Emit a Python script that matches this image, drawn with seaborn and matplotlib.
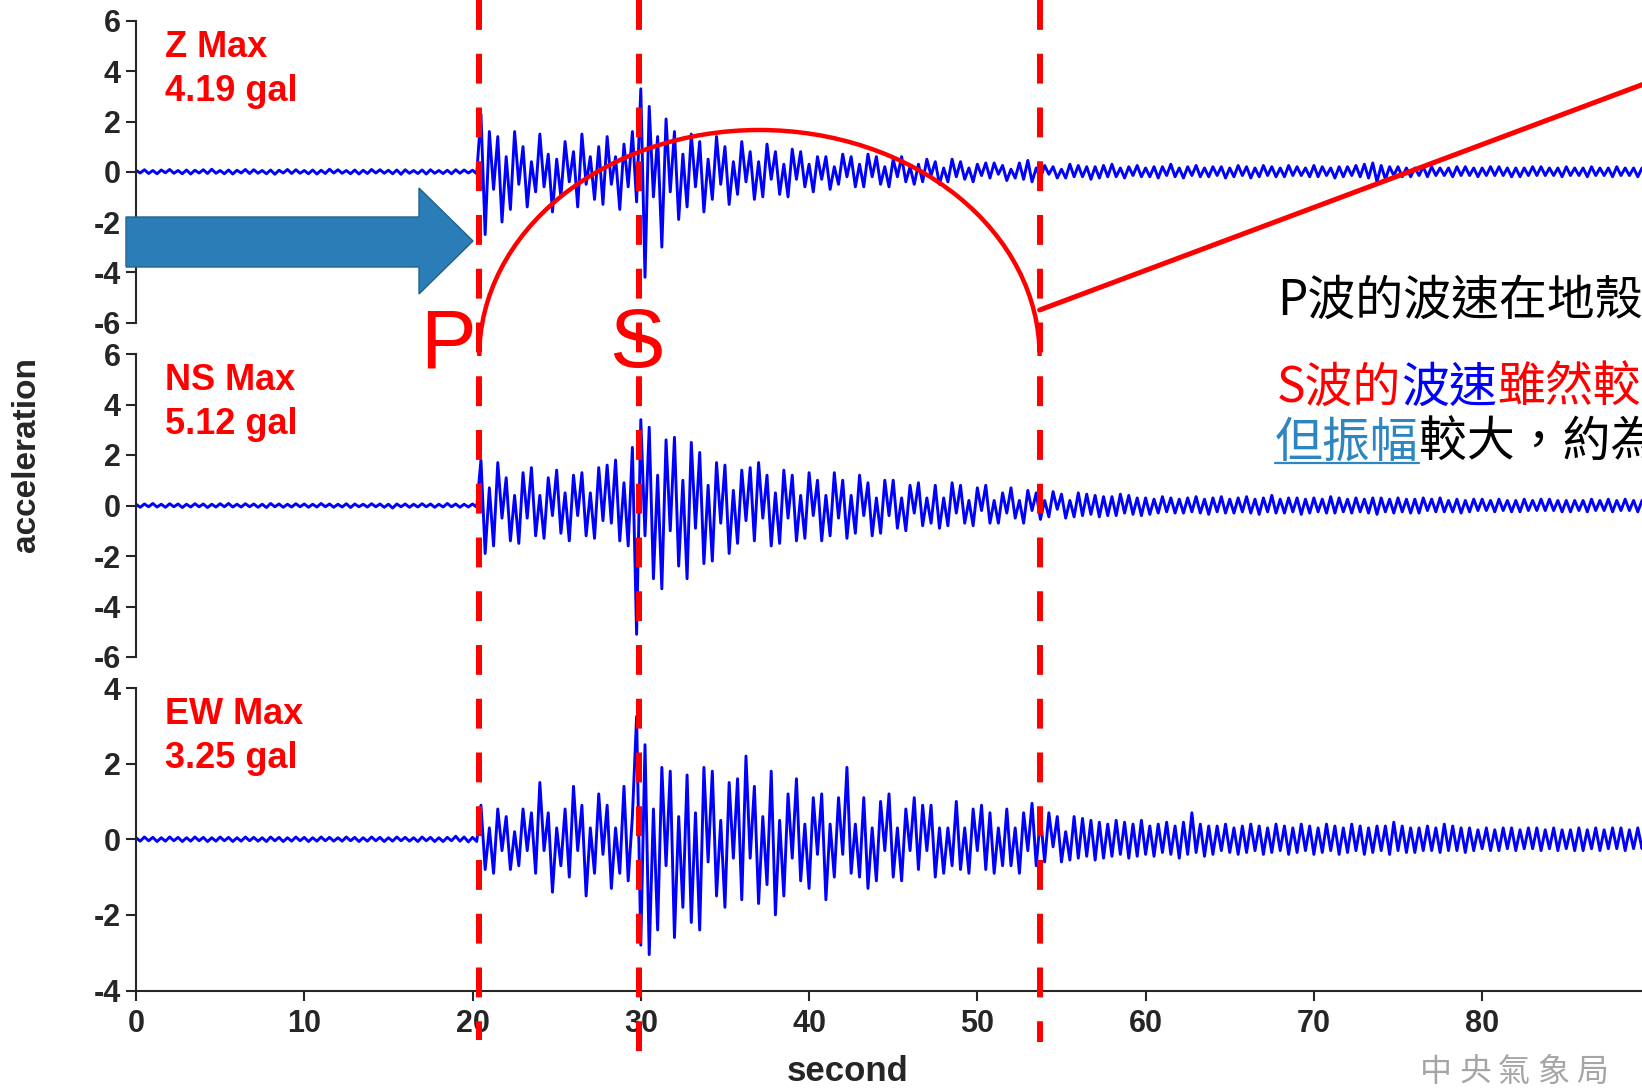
import numpy as np
import pandas as pd
import matplotlib
matplotlib.use("Agg")
import matplotlib.pyplot as plt
import seaborn as sns
from matplotlib.patches import Arc, Polygon
from matplotlib.transforms import offset_copy

# ---- data (gal, one value every 0.25 s) ----
sample_step = 0.25

z_accel = [
    0.06, -0.05, 0.08, -0.07, 0.05, -0.08, 0.07, -0.04,
    0.09, -0.06, 0.05, -0.08, 0.07, -0.09, 0.06, -0.05,
    0.08, -0.07, 0.10, -0.06, 0.05, -0.08, 0.07, -0.09,
    0.06, -0.05, 0.09, -0.07, 0.08, -0.06, 0.05, -0.08,
    0.07, -0.10, 0.06, -0.05, 0.09, -0.07, 0.08, -0.06,
    0.05, -0.08, 0.07, -0.09, 0.06, -0.07, 0.10, -0.05,
    0.08, -0.06, 0.05, -0.08, 0.07, -0.09, 0.06, -0.07,
    0.09, -0.05, 0.08, -0.06, 0.06, -0.08, 0.07, -0.10,
    0.08, -0.06, 0.05, -0.07, 0.07, -0.09, 0.08, -0.06,
    0.05, -0.07, 0.06, -0.08, 0.08, -0.06, 0.07, -0.05,
    0.06, -0.08, 2.30, -2.50, 1.60, -0.70, 1.40, -2.00,
    0.60, -1.50, 1.60, -0.50, 1.00, -1.40, 0.40, -0.80,
    1.50, -0.60, 0.70, -1.60, 0.50, -1.00, 1.20, -0.40,
    0.80, -1.40, 1.50, -0.50, 0.60, -1.10, 1.00, -1.30,
    1.40, -0.50, 0.60, -1.50, 1.10, -0.60, 1.60, -1.20,
    3.30, -4.20, 2.60, -1.00, 1.40, -3.00, 2.10, -0.80,
    1.60, -1.90, 0.70, -1.40, 1.50, -0.60, 1.20, -1.60,
    0.50, -1.10, 1.40, -0.50, 1.00, -1.30, 0.40, -0.90,
    1.20, -0.40, 0.80, -1.10, 0.40, -1.00, 1.10, -0.30,
    0.80, -0.90, 0.30, -1.00, 0.90, -0.30, 0.80, -0.60,
    0.30, -0.80, 0.60, -0.30, 0.60, -0.70, 0.20, -0.50,
    0.70, -0.20, 0.60, -0.60, 0.30, -0.60, 0.70, -0.20,
    0.60, -0.50, 0.20, -0.60, 0.50, -0.20, 0.60, -0.40,
    0.20, -0.50, 0.30, -0.40, 0.50, -0.15, 0.40, -0.50,
    0.15, -0.40, 0.50, -0.20, 0.40, -0.30, 0.15, -0.40,
    0.30, -0.15, 0.35, -0.25, 0.35, -0.10, 0.25, -0.35,
    0.10, -0.25, 0.35, -0.30, 0.45, -0.40, 0.15, -0.25,
    0.25, -0.10, 0.20, -0.25, 0.10, -0.25, 0.30, -0.20,
    0.25, -0.20, 0.20, -0.30, 0.20, -0.25, 0.25, -0.20,
    0.30, -0.20, 0.15, -0.25, 0.20, -0.15, 0.25, -0.20,
    0.15, -0.20, 0.20, -0.25, 0.20, -0.15, 0.30, -0.20,
    0.15, -0.25, 0.20, -0.15, 0.25, -0.20, 0.15, -0.20,
    0.20, -0.15, 0.20, -0.25, 0.15, -0.20, 0.25, -0.15,
    0.20, -0.25, 0.15, -0.20, 0.25, -0.15, 0.20, -0.20,
    0.15, -0.20, 0.25, -0.15, 0.20, -0.15, 0.15, -0.20,
    0.25, -0.20, 0.20, -0.15, 0.15, -0.25, 0.20, -0.20,
    0.20, -0.15, 0.25, -0.20, 0.30, -0.25, 0.35, -0.40,
    0.25, -0.30, 0.20, -0.15, 0.20, -0.20, 0.15, -0.20,
    0.15, -0.15, 0.20, -0.20, 0.20, -0.15, 0.15, -0.15,
    0.15, -0.20, 0.20, -0.15, 0.20, -0.15, 0.15, -0.20,
    0.15, -0.15, 0.20, -0.15, 0.20, -0.15, 0.15, -0.20,
    0.15, -0.20, 0.15, -0.15, 0.20, -0.15, 0.20, -0.15,
    0.15, -0.15, 0.15, -0.20, 0.20, -0.15, 0.15, -0.15,
    0.15, -0.20, 0.20, -0.15, 0.15, -0.15, 0.15, -0.20,
    0.20, -0.15, 0.15, -0.15, 0.15, -0.20, 0.15, -0.15,
]

ns_accel = [
    0.05, -0.07, 0.06, -0.05, 0.08, -0.06, 0.05, -0.07,
    0.07, -0.05, 0.06, -0.08, 0.05, -0.06, 0.07, -0.05,
    0.06, -0.08, 0.05, -0.06, 0.07, -0.05, 0.08, -0.06,
    0.05, -0.06, 0.07, -0.05, 0.06, -0.07, 0.05, -0.08,
    0.08, -0.05, 0.06, -0.07, 0.05, -0.06, 0.07, -0.05,
    0.06, -0.07, 0.05, -0.06, 0.08, -0.05, 0.06, -0.07,
    0.05, -0.06, 0.07, -0.08, 0.06, -0.05, 0.05, -0.06,
    0.07, -0.05, 0.06, -0.07, 0.05, -0.10, 0.06, -0.05,
    0.06, -0.07, 0.05, -0.06, 0.07, -0.05, 0.06, -0.07,
    0.05, -0.06, 0.08, -0.05, 0.06, -0.07, 0.05, -0.06,
    0.06, -0.07, 1.80, -1.90, 0.70, -1.60, 1.70, -0.50,
    1.10, -1.40, 0.40, -1.50, 1.30, -0.50, 1.50, -1.20,
    0.40, -1.30, 1.10, -0.40, 1.40, -1.10, 0.50, -1.40,
    1.20, -0.40, 1.30, -1.20, 0.50, -1.30, 1.50, -0.60,
    1.60, -0.70, 1.80, -1.40, 0.90, -1.60, 2.30, -5.10,
    3.40, -1.20, 3.10, -2.90, 1.20, -3.30, 2.60, -1.00,
    2.70, -2.40, 1.00, -2.90, 2.50, -0.90, 2.10, -2.30,
    0.80, -2.20, 1.70, -0.70, 1.60, -1.90, 0.60, -1.50,
    1.40, -0.60, 1.50, -1.40, 1.70, -0.50, 1.20, -1.60,
    0.50, -1.50, 1.40, -0.50, 1.20, -1.40, 0.40, -1.30,
    1.30, -0.40, 1.00, -1.40, 0.40, -1.20, 1.30, -0.50,
    1.00, -1.30, 0.40, -1.10, 1.20, -0.40, 0.90, -1.20,
    0.30, -1.10, 1.00, -0.40, 1.00, -0.90, 0.30, -1.00,
    0.80, -0.30, 0.90, -0.80, 0.30, -0.70, 0.80, -0.90,
    0.30, -0.80, 0.90, -0.30, 0.80, -0.70, 0.20, -0.80,
    0.70, -0.20, 0.80, -0.70, 0.20, -0.70, 0.50, -0.30,
    0.70, -0.50, 0.20, -0.70, 0.60, -0.20, 0.50, -0.55,
    0.20, -0.45, 0.55, -0.15, 0.45, -0.50, 0.20, -0.45,
    0.50, -0.40, 0.45, -0.35, 0.40, -0.45, 0.35, -0.40,
    0.35, -0.40, 0.45, -0.30, 0.40, -0.35, 0.30, -0.40,
    0.30, -0.35, 0.25, -0.30, 0.35, -0.25, 0.30, -0.30,
    0.25, -0.30, 0.30, -0.25, 0.35, -0.30, 0.25, -0.35,
    0.30, -0.25, 0.35, -0.30, 0.25, -0.30, 0.30, -0.25,
    0.35, -0.30, 0.25, -0.35, 0.30, -0.25, 0.40, -0.30,
    0.25, -0.30, 0.30, -0.25, 0.30, -0.35, 0.25, -0.30,
    0.30, -0.25, 0.25, -0.30, 0.35, -0.30, 0.30, -0.25,
    0.25, -0.30, 0.30, -0.25, 0.25, -0.30, 0.30, -0.35,
    0.30, -0.25, 0.25, -0.30, 0.30, -0.25, 0.25, -0.30,
    0.25, -0.30, 0.30, -0.20, 0.25, -0.25, 0.30, -0.25,
    0.20, -0.25, 0.25, -0.30, 0.20, -0.25, 0.25, -0.20,
    0.25, -0.20, 0.20, -0.25, 0.25, -0.20, 0.20, -0.25,
    0.20, -0.25, 0.25, -0.20, 0.20, -0.20, 0.25, -0.20,
    0.25, -0.20, 0.20, -0.25, 0.20, -0.25, 0.20, -0.20,
    0.20, -0.25, 0.25, -0.20, 0.20, -0.20, 0.25, -0.25,
    0.20, -0.20, 0.25, -0.20, 0.20, -0.25, 0.20, -0.20,
]

ew_accel = [
    0.04, -0.05, 0.06, -0.04, 0.05, -0.06, 0.04, -0.05,
    0.06, -0.04, 0.05, -0.06, 0.04, -0.05, 0.06, -0.04,
    0.05, -0.06, 0.04, -0.05, 0.06, -0.04, 0.05, -0.06,
    0.04, -0.05, 0.06, -0.04, 0.05, -0.05, 0.04, -0.06,
    0.06, -0.04, 0.05, -0.06, 0.04, -0.05, 0.06, -0.04,
    0.05, -0.06, 0.04, -0.05, 0.06, -0.04, 0.05, -0.05,
    0.04, -0.05, 0.06, -0.04, 0.05, -0.06, 0.04, -0.05,
    0.06, -0.04, 0.05, -0.06, 0.04, -0.05, 0.06, -0.04,
    0.05, -0.05, 0.04, -0.06, 0.06, -0.04, 0.05, -0.06,
    0.04, -0.06, 0.05, -0.04, 0.08, -0.05, 0.06, -0.07,
    0.05, -0.06, 0.90, -0.80, 0.30, -0.90, 0.80, -0.30,
    0.60, -0.80, 0.20, -0.70, 0.80, -0.30, 0.70, -0.90,
    1.50, -0.30, 0.70, -1.40, 0.30, -0.70, 0.80, -1.00,
    1.40, -0.30, 0.90, -1.50, 0.30, -0.90, 1.20, -0.40,
    0.90, -1.30, 0.30, -0.90, 1.40, -1.10, 0.60, 3.25,
    -2.80, 2.50, -3.05, 0.80, -2.40, 1.90, -0.70, 1.80,
    -2.60, 0.60, -1.80, 1.70, -2.20, 0.70, -2.40, 1.90,
    -0.60, 1.80, -1.50, 0.50, -1.80, 1.50, -0.50, 1.60,
    -1.60, 2.20, -0.50, 1.40, -1.70, 0.60, -1.20, 1.80,
    -2.00, 0.50, -1.50, 1.20, -0.50, 1.60, -1.10, 0.40,
    -1.30, 1.10, -0.40, 1.20, -1.60, 0.40, -1.00, 1.10,
    -0.40, 1.90, -0.90, 0.40, -1.00, 1.10, -1.30, 0.30,
    -1.10, 1.00, -0.30, 1.20, -1.00, 0.30, -1.10, 0.80,
    -0.30, 1.10, -0.80, 0.90, -0.30, 0.90, -1.00, 0.30,
    -0.90, 0.30, -0.70, 1.00, -0.80, 0.30, -0.90, 0.80,
    -0.30, 0.90, -0.80, 0.70, -0.90, 0.30, -0.70, 0.80,
    -0.70, 0.30, -0.90, 0.70, -0.30, 0.95, -0.70, 0.60,
    -0.60, 0.70, -0.20, 0.60, -0.60, 0.20, -0.55, 0.60,
    -0.50, 0.55, -0.45, 0.50, -0.55, 0.45, -0.50, 0.40,
    -0.45, 0.50, -0.40, 0.45, -0.50, 0.40, -0.45, 0.50,
    -0.40, 0.35, -0.45, 0.40, -0.35, 0.45, -0.40, 0.35,
    -0.50, 0.45, -0.40, 0.70, -0.35, 0.40, -0.45, 0.35,
    -0.40, 0.35, -0.30, 0.40, -0.35, 0.30, -0.40, 0.35,
    -0.35, 0.40, -0.30, 0.35, -0.40, 0.30, -0.35, 0.40,
    -0.30, 0.35, -0.40, 0.30, -0.35, 0.40, -0.30, 0.35,
    -0.40, 0.30, -0.35, 0.40, -0.30, 0.35, -0.40, 0.30,
    -0.35, 0.40, -0.30, 0.35, -0.40, 0.30, -0.35, 0.35,
    -0.30, 0.35, -0.40, 0.45, -0.30, 0.35, -0.35, 0.30,
    -0.35, 0.30, -0.30, 0.35, -0.30, 0.30, -0.35, 0.40,
    -0.30, 0.35, -0.30, 0.30, -0.35, 0.30, -0.30, 0.25,
    -0.25, 0.30, -0.30, 0.25, -0.30, 0.30, -0.25, 0.30,
    -0.30, 0.25, -0.25, 0.30, -0.25, 0.30, -0.30, 0.25,
    -0.25, 0.30, -0.30, 0.25, -0.25, 0.25, -0.30, 0.30,
    -0.30, 0.25, -0.25, 0.30, -0.30, 0.25, -0.25, 0.30,
    -0.25, 0.30, -0.30, 0.25, -0.25, 0.30, -0.25, 0.25,
]

components = ["Z", "NS", "EW"]
peak_gal = ["4.19", "5.12", "3.25"]
y_limits = [(-6, 6), (-6, 6), (-4, 4)]
y_ticks = [[-6, -4, -2, 0, 2, 4, 6], [-6, -4, -2, 0, 2, 4, 6], [-4, -2, 0, 2, 4]]
x_ticks = [0, 10, 20, 30, 40, 50, 60, 70, 80]

# P onset, S onset, end of strong shaking (seconds)
p_arrival = 20.4
s_arrival = 29.9
coda_end = 53.7

# ---- figure ----
W, H = 1642, 1088
sns.set_style("ticks")
plt.rcParams["font.family"] = ["Liberation Sans", "Noto Sans CJK TC", "DejaVu Sans"]

fig = plt.figure(figsize=(W / 100, H / 100), dpi=100)

left = 136 / W
width = 1 - left
rows_px = [(21, 322.5), (354, 657), (688, 990.5)]

traces = [z_accel, ns_accel, ew_accel]
axes = []
for i, (top, bot) in enumerate(rows_px):
    ax = fig.add_axes([left, 1 - bot / H, width, (bot - top) / H])
    vals = traces[i]
    df = pd.DataFrame({"second": np.arange(len(vals)) * sample_step,
                       "acceleration": vals})
    sns.lineplot(data=df, x="second", y="acceleration", ax=ax, color="#0000FF",
                 linewidth=2.1, estimator=None, sort=False)
    ax.set_xlim(0, 89.5)
    ax.set_ylim(*y_limits[i])
    ax.set_yticks(y_ticks[i])
    ax.set_yticklabels([str(v) for v in y_ticks[i]], fontsize=22, fontweight="bold")
    ax.tick_params(axis="y", direction="out", length=7, width=1.5, pad=4)
    ax.set_xlabel("")
    ax.set_ylabel("")
    ax.patch.set_alpha(0)
    for side in ["top", "right"]:
        ax.spines[side].set_visible(False)
    ax.spines["left"].set_linewidth(1.5)
    if i < 2:
        ax.spines["bottom"].set_visible(False)
        ax.set_xticks([])
    else:
        ax.spines["bottom"].set_linewidth(1.5)
        ax.set_xticks(x_ticks)
        ax.set_xticklabels([str(v) for v in x_ticks], fontsize=22, fontweight="bold")
        ax.tick_params(axis="x", direction="out", length=7, width=1.5, pad=6)
    # component label
    ax.text(0, 1, f"{components[i]} Max", color="red", fontsize=26, fontweight="bold",
            va="baseline", transform=offset_copy(ax.transAxes, fig=fig, x=29, y=-36, units="dots"))
    ax.text(0, 1, f"{peak_gal[i]} gal", color="red", fontsize=26, fontweight="bold",
            va="baseline", transform=offset_copy(ax.transAxes, fig=fig, x=29, y=-80, units="dots"))
    axes.append(ax)

ax_ew = axes[2]

# overlay in pixel coordinates (y downwards)
ov = fig.add_axes([0, 0, 1, 1], zorder=10)
ov.set_xlim(0, W)
ov.set_ylim(H, 0)
ov.axis("off")
ov.patch.set_alpha(0)


def to_px(t):
    return ax_ew.transData.transform((t, 0))[0]


xp, xs, xe = to_px(p_arrival), to_px(s_arrival), to_px(coda_end)

# dashed phase lines
for xv, yend in [(xp, 1040), (xs, 1052), (xe, 1042)]:
    ov.plot([xv, xv], [0, yend], color="#FF0000", lw=4.3, dashes=(5, 4),
            solid_capstyle="butt", dash_capstyle="butt")

# half-ellipse between P and end of shaking
ov.add_patch(Arc(((xp + xe) / 2, 356), xe - xp, 452, theta1=180, theta2=360,
                 color="#FF0000", lw=3.2))

# pointer line to the explanation
ov.plot([xe, W + 60], [310, 310 - 0.374 * (W + 60 - xe)], color="#FF0000", lw=3.6)

# big blue arrow
arrow_pts = [(126, 217), (419, 217), (419, 188), (473, 241), (419, 294), (419, 267), (126, 267)]
ov.add_patch(Polygon(arrow_pts, closed=True, facecolor="#2A7DB6", edgecolor="#22628F", lw=1))

ov.text(448, 367, "P", ha="center", va="baseline", fontsize=60, color="#FF0000")
ov.text(637, 367, "S", ha="center", va="baseline", fontsize=60, color="#FF0000")

ov.text(27, 454, "acceleration", rotation=90, ha="center", va="center",
        fontsize=24, fontweight="bold")
ov.text(848, 1081, "second", ha="center", va="baseline", fontsize=25, fontweight="bold")

# explanation text on the right (cut by the right edge, as in the slide)
cjk = ["Noto Sans CJK TC", "DejaVu Sans"]
renderer = fig.canvas.get_renderer()


def colored_line(x, y, parts):
    for txt, col, under in parts:
        t = ov.text(x, y, txt, color=col, fontsize=34.5, family=cjk, va="baseline")
        bb = t.get_window_extent(renderer=renderer)
        if under:
            ov.plot([x, x + bb.width], [y + 6, y + 6], color=col, lw=1.6)
        x += bb.width


colored_line(1277, 315, [("P波的波速在地殼", "black", False)])
colored_line(1277, 402, [("S波的", "#FF0000", False), ("波速", "#0000FF", False),
                         ("雖然較", "#FF0000", False)])
colored_line(1275, 457, [("但振幅", "#2E86C1", True), ("較大，約為", "black", False)])

# watermark
for k, ch in enumerate("中央氣象局"):
    ov.text(1420 + 39 * k, 1056, ch, va="top", fontsize=23, color="#A5A5A5", family=cjk)

fig.savefig("out.png", dpi=100)
